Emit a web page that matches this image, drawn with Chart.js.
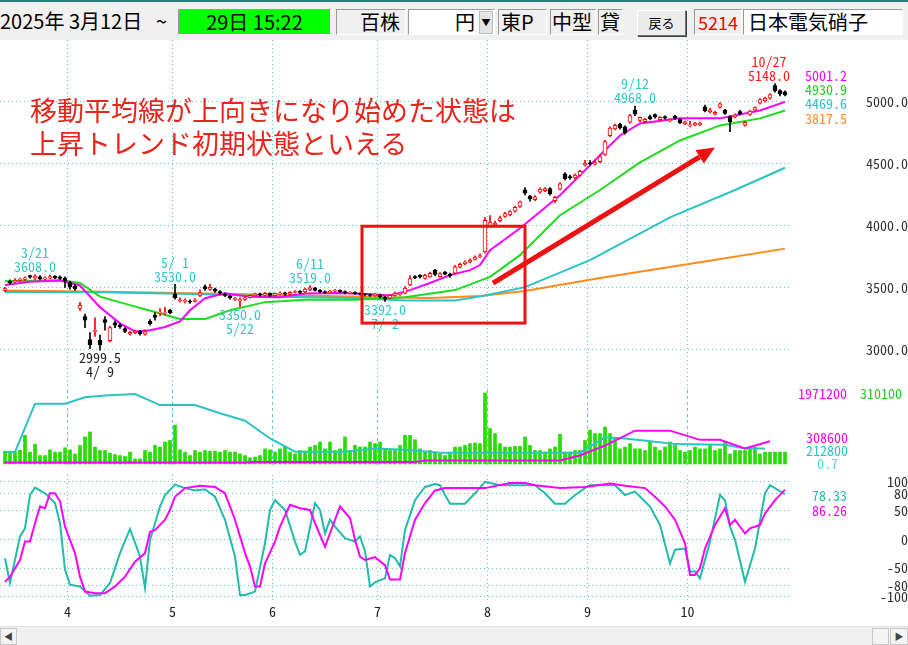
<!DOCTYPE html>
<html><head><meta charset="utf-8">
<script src="https://cdn.jsdelivr.net/npm/chart.js@4.4.1/dist/chart.umd.min.js"></script>
<style>
html,body{margin:0;padding:0;background:#fff;}
body{width:908px;height:645px;position:relative;overflow:hidden;font-family:'Noto Sans CJK JP',sans-serif;}
#top{position:absolute;left:0;top:0;width:908px;height:40px;background:#f0f0f0;border-top:2px solid #2c7c7c;box-sizing:border-box;}
.box{position:absolute;top:7px;height:26px;box-sizing:border-box;border:1px solid;border-color:#9a9a9a #ffffff #ffffff #9a9a9a;font-size:20px;line-height:24px;white-space:nowrap;color:#000;}
.txt{position:absolute;top:7px;font-size:20px;line-height:24px;white-space:nowrap;}
.btn{position:absolute;top:8px;height:26px;box-sizing:border-box;border:1px solid;border-color:#ffffff #707070 #707070 #ffffff;background:#ececec;font-size:13px;line-height:24px;text-align:center;box-shadow:1px 1px 0 #404040;}
canvas{position:absolute;left:0;}
.lab{position:absolute;font-family:'Noto Sans Mono CJK JP','Liberation Mono',monospace;font-size:14px;line-height:14px;white-space:nowrap;text-align:right;}
#note{position:absolute;left:30px;top:93px;font-size:27px;line-height:33px;color:#e8251c;white-space:nowrap;}
#scroll{position:absolute;left:0;top:626px;width:908px;height:19px;background:#f0f0f0;border-top:1px solid #e0e0e0;}
.sb{position:absolute;top:1px;height:17px;box-sizing:border-box;border:1px solid #c8c8c8;background:#f4f4f4;font-size:9px;line-height:15px;text-align:center;color:#444;}
</style></head>
<body>
<div id="top">
  <div class="txt" style="left:0;">2025年 3月12日</div>
  <div class="txt" style="left:156px;">~</div>
  <div class="box" style="left:178px;width:153px;background:#00ff00;text-align:center;">29日 15:22</div>
  <div class="box" style="left:336px;width:70px;text-align:right;padding-right:5px;">百株</div>
  <div class="box" style="left:408px;width:87px;background:#fff;"><span style="position:absolute;left:46px;">円</span><span style="position:absolute;left:70px;top:1px;width:12px;height:21px;background:#e4e4e4;border:1px solid #bbb;font-size:9px;line-height:21px;text-align:center;">▼</span></div>
  <div class="box" style="left:498px;width:49px;padding-left:2px;">東P</div>
  <div class="box" style="left:550px;width:46px;padding-left:1px;">中型</div>
  <div class="box" style="left:598px;width:25px;padding-left:1px;">貸</div>
  <div class="btn" style="left:637px;width:49px;">戻る</div>
  <div class="box" style="left:694px;width:48px;color:#ff0000;padding-left:3px;font-size:18px;">5214</div>
  <div class="box" style="left:743px;width:160px;background:#fff;padding-left:4px;">日本電気硝子</div>
</div>

<canvas id="cPrice" width="908" height="350" style="top:40px;width:908px;height:350px"></canvas>
<canvas id="cVol" width="908" height="76" style="top:390px;width:908px;height:76px"></canvas>
<canvas id="cOsc" width="908" height="155" style="top:470px;width:908px;height:155px"></canvas>

<div id="note">移動平均線が上向きになり始めた状態は<br>上昇トレンド初期状態といえる</div>

<div class="lab" style="left:790px;width:57px;top:68px;color:#ff00ff;">5001.2</div>
<div class="lab" style="left:790px;width:57px;top:82px;color:#22cc22;">4930.9</div>
<div class="lab" style="left:790px;width:57px;top:96px;color:#2cc3c3;">4469.6</div>
<div class="lab" style="left:790px;width:57px;top:111px;color:#ff8c33;">3817.5</div>

<div class="lab" style="left:790px;width:57px;top:386px;color:#ff00ff;">1971200</div>
<div class="lab" style="left:850px;width:52px;top:386px;color:#22cc22;">310100</div>
<div class="lab" style="left:790px;width:58px;top:430px;color:#ff00ff;">308600</div>
<div class="lab" style="left:790px;width:58px;top:443px;color:#2cc3c3;">212800</div>
<div class="lab" style="left:790px;width:48px;top:456px;color:#55dddd;">0.7</div>

<div class="lab" style="left:790px;width:57px;top:488px;color:#22bbaa;">78.33</div>
<div class="lab" style="left:790px;width:57px;top:503px;color:#ff00ff;">86.26</div>

<div id="scroll">
  <div class="sb" style="left:0;width:17px;">◀</div>
  <div class="sb" style="left:872px;width:17px;"></div>
  <div class="sb" style="left:890px;width:18px;">▶</div>
</div>

<script>
// ---------------- DATA ----------------
// trading days 2025/3/12 .. 2025/10/29 (157 sessions), index 0..156
const monthBounds = [12.5, 33.5, 53.5, 74.5, 96.5, 116.5, 136.5];
const monthLabels = ['4', '5', '6', '7', '8', '9', '10'];
const priceTicks = [3000, 3500, 4000, 4500, 5000];
const oscTicks = [-100, -80, -50, 0, 50, 80, 100];

const opens = [
 3480,3555,3550,3562,3570,3600,3580,3590,3572,3580,
 3595,3590,3580,3545,3515,3335,3270,3085,3150,3080,
 3245,3075,3220,3200,3172,3128,3138,3150,3128,3232,
 3282,3298,3296,3322,3450,3398,3392,3395,3392,3440,
 3512,3488,3492,3472,3448,3432,3408,3398,3408,3424,
 3438,3452,3442,3458,3438,3452,3462,3448,3464,3474,
 3468,3484,3498,3482,3472,3462,3474,3482,3472,3458,
 3466,3456,3452,3446,3438,3445,3425,3418,3440,3448,
 3458,3525,3592,3602,3578,3590,3645,3592,3628,3612,
 3620,3668,3694,3708,3730,3752,3790,4000,4010,4040,
 4078,4090,4120,4158,4292,4240,4212,4272,4284,4302,
 4204,4298,4420,4398,4388,4410,4490,4510,4498,4518,
 4578,4728,4782,4822,4800,4838,4932,4852,4842,4882,
 4898,4858,4882,4848,4886,4860,4824,4808,4814,4816,
 4962,4920,4902,4958,4932,4882,4880,4922,4814,4900,
 4934,4990,5008,5030,5132,5092,5082];
const highs = [
 3505,3565,3575,3580,3590,3605,3608,3600,3590,3605,
 3600,3598,3590,3555,3530,3385,3290,3140,3260,3120,
 3270,3190,3235,3215,3180,3150,3160,3158,3160,3245,
 3300,3335,3345,3330,3530,3420,3412,3405,3415,3485,
 3525,3532,3500,3480,3460,3440,3425,3420,3430,3445,
 3460,3460,3465,3462,3462,3470,3468,3472,3480,3480,
 3500,3519,3505,3488,3478,3482,3490,3486,3478,3472,
 3470,3462,3458,3452,3458,3450,3432,3448,3468,3462,
 3512,3600,3600,3608,3612,3628,3650,3625,3635,3620,
 3682,3700,3720,3735,3760,3775,4070,4085,4040,4080,
 4110,4125,4160,4200,4310,4248,4245,4308,4310,4310,
 4240,4350,4430,4410,4420,4450,4530,4528,4525,4575,
 4690,4800,4822,4830,4808,4900,4968,4880,4868,4895,
 4905,4882,4888,4866,4892,4866,4846,4845,4836,4838,
 4975,4950,4925,4995,4940,4890,4905,4932,4842,4932,
 4962,5028,5040,5068,5148,5100,5090];
const lows = [
 3470,3530,3540,3555,3560,3580,3570,3565,3565,3575,
 3575,3570,3505,3490,3480,3320,3180,3010,3110,2999.5,
 3160,3065,3180,3175,3140,3120,3130,3120,3120,3200,
 3240,3275,3280,3290,3410,3385,3380,3375,3385,3430,
 3480,3480,3465,3450,3430,3410,3400,3350,3400,3418,
 3432,3435,3438,3430,3432,3445,3440,3442,3458,3455,
 3462,3478,3475,3462,3455,3458,3468,3462,3452,3452,
 3448,3442,3436,3432,3432,3420,3392,3412,3434,3440,
 3452,3518,3575,3580,3572,3585,3600,3588,3605,3585,
 3612,3662,3688,3702,3724,3745,3780,3990,3995,4032,
 4070,4082,4112,4150,4250,4200,4205,4265,4276,4248,
 4188,4290,4370,4375,4380,4402,4482,4492,4490,4510,
 4570,4720,4775,4780,4740,4830,4890,4840,4830,4855,
 4870,4850,4862,4840,4862,4826,4818,4800,4808,4810,
 4920,4912,4895,4950,4900,4760,4872,4895,4806,4892,
 4928,4982,5000,5022,5080,5050,5050];
const closes = [
 3495,3540,3562,3572,3582,3588,3596,3575,3582,3592,
 3582,3578,3560,3508,3495,3360,3240,3040,3158,3040,
 3222,3180,3200,3188,3150,3142,3152,3130,3148,3210,
 3262,3304,3302,3300,3422,3405,3400,3385,3402,3462,
 3495,3505,3475,3460,3440,3420,3416,3406,3420,3440,
 3452,3444,3456,3440,3456,3462,3450,3466,3472,3464,
 3492,3502,3480,3470,3464,3476,3482,3470,3460,3466,
 3455,3450,3444,3440,3450,3428,3410,3440,3460,3456,
 3500,3575,3584,3590,3602,3618,3610,3616,3612,3598,
 3670,3690,3710,3726,3750,3762,4045,4032,4022,4066,
 4100,4116,4150,4195,4265,4218,4236,4298,4302,4258,
 4232,4340,4382,4390,4410,4440,4508,4502,4512,4560,
 4680,4790,4812,4790,4752,4890,4902,4876,4860,4864,
 4880,4876,4870,4860,4870,4834,4840,4816,4830,4832,
 4930,4936,4916,4986,4908,4842,4896,4904,4836,4926,
 4956,5020,5032,5060,5090,5066,5058];
const volumes = [
 56000,56000,52000,60000,125000,52000,86000,37000,37000,62000,
 52000,52000,71000,62000,44000,81000,118000,140000,74000,59000,
 59000,47000,41000,37000,33000,52000,22000,22000,59000,52000,
 81000,74000,96000,103000,170000,62000,52000,37000,59000,52000,
 59000,56000,56000,52000,59000,52000,52000,44000,37000,27000,
 30000,37000,66000,62000,52000,66000,74000,52000,44000,59000,
 56000,74000,81000,96000,66000,96000,59000,66000,118000,59000,
 81000,74000,74000,96000,89000,96000,66000,59000,59000,81000,
 125000,125000,106000,66000,52000,59000,52000,44000,37000,52000,
 74000,74000,81000,89000,92000,89000,310100,155000,133000,89000,
 74000,74000,77000,77000,118000,81000,59000,59000,52000,66000,
 74000,130000,52000,52000,59000,59000,103000,148000,133000,133000,
 162000,133000,111000,66000,74000,89000,66000,66000,59000,96000,
 74000,59000,74000,96000,81000,59000,52000,59000,74000,66000,
 66000,81000,59000,66000,96000,44000,59000,59000,59000,74000,
 74000,44000,52000,52000,52000,52000,52000];

// moving averages (sampled session index -> value)
const maShortIdx = [0,5,11,15,19,23,26,29,32,35,37,40,44,49,55,60,67,73,77,81,85,89,93,95,97,103,111,119,123,127,135,143,151,156];
const maShort    = [3525,3550,3560,3520,3345,3215,3150,3160,3185,3230,3320,3418,3458,3430,3425,3455,3460,3450,3440,3483,3540,3604,3644,3685,3805,3982,4248,4570,4730,4827,4868,4868,4932,5001.2];
const maMidIdx   = [0,11,15,19,25,30,35,40,45,52,60,70,80,90,97,103,111,119,127,135,143,151,156];
const maMid      = [3555,3562,3540,3430,3362,3306,3250,3250,3320,3386,3405,3405,3425,3483,3590,3765,4087,4290,4513,4690,4811,4868,4930.9];
const maLongIdx  = [0,20,40,55,70,80,90,96,104,117,133,146,156];
const maLong     = [3467,3465,3450,3430,3420,3400,3400,3440,3507,3725,4070,4290,4469.6];
const maXLongIdx = [0,20,40,60,75,85,95,104,119,139,156];
const maXLong    = [3480,3470,3455,3440,3425,3420,3435,3475,3580,3708,3817.5];

// volume-panel lines (panel %)
const volLineAIdx = [0,2,6,12,16,20,26,31,38,43,48,53,58,68,74,80,87,115,117,120,124,130,134,144,148,152];
const volLineA    = [17,17,85,85,94,96.5,98.6,83,83,71.4,61,36,17.4,17.4,22,20,16,16,24.4,37.6,36,31.4,28,27,22,22];
const volLineBIdx = [0,48,50,82,84,111,115,120,126,133,139,143,148,153];
const volLineB    = [2,2,3,3,5,5,12,26,47,47,34,34,22,32];

// oscillator
const oscFastIdx = [0,1,3,4,5,6,8,10,11,12,13,15,17,19,21,23,25,27,28,29,31,32,34,36,38,40,42,44,46,47,48,50,52,53,54,56,58,59,60,62,63,64,65,66,68,70,71,72,73,74,76,77,78,79,80,82,84,86,87,88,89,92,94,96,99,106,108,110,112,114,116,117,122,124,126,129,131,133,134,136,137,138,139,141,143,144,145,146,148,150,152,153,156];
const oscFast    = [-33,-76,5,19,77,90,80,63,28,-53,-79,-82,-98,-97,-76,-24,18,-30,-85,-1,57,77,95,89,85,87,74,34,-30,-97,-97,-91,-7,51,68,51,-4,-27,-21,63,51,10,34,22,2,-4,5,-21,-82,-75,-68,-27,-33,-47,16,68,91,96,94,77,62,62,80,100,94,94,80,62,62,77,89,94,94,77,83,57,25,-42,-18,-16,-56,-56,-68,-4,77,68,22,-1,-74,-16,80,94,78.33];
const oscSlowIdx = [0,1,3,4,5,6,7,8,9,10,11,12,14,15,16,18,20,22,24,26,28,29,30,32,33,34,36,39,42,44,46,48,49,50,51,52,54,55,57,59,61,62,64,66,67,69,70,71,72,74,76,77,79,80,82,84,86,88,96,101,104,106,111,116,121,124,128,130,132,134,136,137,138,139,140,142,144,145,146,148,149,151,152,154,156];
const oscSlow    = [-74,-65,-36,-4,-4,28,57,54,80,80,66,22,-24,-65,-91,-94,-94,-82,-65,-39,-24,13,16,34,51,74,89,93,91,80,34,-24,-47,-82,-82,-42,-4,22,60,54,51,28,-13,34,57,37,-1,-30,-36,-31,-45,-70,-70,-24,34,63,85,89,89,98,98,94,89,91,97,93,89,74,57,34,-7,-62,-62,-50,-16,25,54,25,34,10,19,25,45,68,86.26];

// high / low annotations
const hlIdx   = [6, 19, 34, 47, 61, 76, 126, 154];
const hlKind  = ['H','L','H','L','H','L','H','H'];
const hlValue = [3608.0, 2999.5, 3530.0, 3350.0, 3519.0, 3392.0, 4968.0, 5148.0];
const hlDate  = ['3/21','4/ 9','5/ 1','5/22','6/11','7/ 2','9/12','10/27'];

// drawn annotations (in data units)
const boxIdx = [71.4, 104];
const boxPrice = [3217, 3998];
const arrowIdx = [97.6, 142];
const arrowPrice = [3539, 4634];

// ---------------- STYLE ----------------
const monoFont = "'Noto Sans Mono CJK JP','Liberation Mono',monospace";
const gridCyan = '#5cc9c9';
const C_MAG = '#ff00ff', C_GRN = '#1edc1e', C_CYN = '#2cc3c3', C_ORG = '#ff8c1a';
const C_OSC_CYN = '#22bbaa';
const C_VOL = '#25dd00';

const mctx = document.createElement('canvas').getContext('2d');
mctx.font = '14px ' + monoFont;
const wPrice = mctx.measureText('5000.0').width;
const wOsc = mctx.measureText('-100').width;

const pts = (ix, vals) => ix.map((v, i) => ({x: v, y: vals[i]}));
const isUp = i => closes[i] >= opens[i];

function xAxis(showLabels, dash, h) {
  return {
    type: 'linear', min: -1, max: 157, offset: false,
    afterBuildTicks: s => { s.ticks = monthBounds.map(v => ({value: v})); },
    afterFit: s => { s.height = h; s.paddingLeft = 0; s.paddingRight = 0; },
    grid: {color: gridCyan, lineWidth: 1, drawTicks: false, offset: false},
    border: {display: false, dash: dash},
    ticks: {display: showLabels, autoSkip: false, maxRotation: 0, padding: 3, color: '#222',
            font: {family: monoFont, size: 14},
            callback: (v, i) => monthLabels[i]}
  };
}
function yRight(min, max, tickVals, w, fmt) {
  return {position: 'right', min, max,
    afterBuildTicks: s => { s.ticks = tickVals.map(v => ({value: v})); },
    afterFit: s => { s.width = 118; s.paddingTop = 0; s.paddingBottom = 0; },
    grid: {color: gridCyan, drawTicks: false},
    border: {display: false, dash: [1, 3]},
    ticks: {autoSkip: false, crossAlign: 'far', padding: 112 - w, color: '#333',
            font: {family: monoFont, size: 14}, callback: fmt}};
}
const lineDs = (data, color, order, axis) => ({type: 'line', data, borderColor: color, borderWidth: 2,
  pointRadius: 0, tension: 0, order, yAxisID: axis || 'y', fill: false});

const common = {responsive: false, maintainAspectRatio: false, animation: false,
  events: [], plugins: {legend: {display: false}, tooltip: {enabled: false}}};

// ---------- price panel ----------
const annotPlugin = {
  id: 'annot',
  afterDatasetsDraw(chart) {
    const {ctx, chartArea, scales: {x, y}} = chart;
    ctx.save();
    const maxH = Math.max(...highs), minL = Math.min(...lows);
    ctx.font = '14px ' + monoFont;
    ctx.textAlign = 'center';
    hlIdx.forEach((ix, k) => {
      const val = hlValue[k].toFixed(1), dt = hlDate[k];
      const w = Math.max(ctx.measureText(val).width, ctx.measureText(dt).width);
      let px = x.getPixelForValue(ix);
      if (px + w / 2 > chartArea.right) px = chartArea.right - w / 2;
      const py = y.getPixelForValue(hlValue[k]);
      ctx.fillStyle = hlValue[k] === maxH ? '#ff1a1a' : (hlValue[k] === minL ? '#222' : '#33c6c6');
      if (hlKind[k] === 'H') {
        ctx.textBaseline = 'bottom';
        ctx.fillText(val, px, py - 1);
        ctx.fillText(dt, px, py - 15);
      } else {
        ctx.textBaseline = 'top';
        ctx.fillText(val, px, py + 1);
        ctx.fillText(dt, px, py + 15);
      }
    });
    ctx.strokeStyle = '#ee1111';
    ctx.lineWidth = 3;
    const bx0 = x.getPixelForValue(boxIdx[0]), bx1 = x.getPixelForValue(boxIdx[1]);
    const by0 = y.getPixelForValue(boxPrice[1]), by1 = y.getPixelForValue(boxPrice[0]);
    ctx.strokeRect(bx0, by0, bx1 - bx0, by1 - by0);
    const ax0 = x.getPixelForValue(arrowIdx[0]), ay0 = y.getPixelForValue(arrowPrice[0]);
    const ax1 = x.getPixelForValue(arrowIdx[1]), ay1 = y.getPixelForValue(arrowPrice[1]);
    const ang = Math.atan2(ay1 - ay0, ax1 - ax0);
    const hl = 18, hw = 8;
    const bxm = ax1 - hl * Math.cos(ang), bym = ay1 - hl * Math.sin(ang);
    ctx.fillStyle = '#ee1111';
    ctx.lineWidth = 5;
    ctx.beginPath(); ctx.moveTo(ax0, ay0); ctx.lineTo(bxm, bym); ctx.stroke();
    ctx.beginPath();
    ctx.moveTo(ax1, ay1);
    ctx.lineTo(bxm + hw * Math.sin(ang), bym - hw * Math.cos(ang));
    ctx.lineTo(bxm - hw * Math.sin(ang), bym + hw * Math.cos(ang));
    ctx.closePath(); ctx.fill();
    ctx.restore();
  }
};

new Chart(document.getElementById('cPrice'), {
  type: 'bar',
  data: {datasets: [
    lineDs(pts(maXLongIdx, maXLong), C_ORG, 5),
    lineDs(pts(maLongIdx, maLong), C_CYN, 4),
    lineDs(pts(maMidIdx, maMid), C_GRN, 3),
    lineDs(pts(maShortIdx, maShort), C_MAG, 2),
    {type: 'bar', order: 1, grouped: false, barThickness: 1,
     data: opens.map((o, i) => ({x: i, y: [lows[i], highs[i]]})),
     backgroundColor: opens.map((o, i) => isUp(i) ? '#ff0000' : '#000000')},
    {type: 'bar', order: 0, grouped: false, barThickness: 4, borderWidth: 1, borderSkipped: false,
     data: opens.map((o, i) => ({x: i, y: [o, closes[i]]})),
     backgroundColor: opens.map((o, i) => isUp(i) ? '#ffffff' : '#000000'),
     borderColor: opens.map((o, i) => isUp(i) ? '#ff0000' : '#000000')}
  ]},
  options: {...common, layout: {padding: 0},
    scales: {
      x: xAxis(false, [1, 3], 0),
      y: yRight(2677.4, 5500, priceTicks, wPrice, v => Number(v).toFixed(1))
    }},
  plugins: [annotPlugin]
});

// ---------- volume panel ----------
new Chart(document.getElementById('cVol'), {
  type: 'bar',
  data: {datasets: [
    lineDs(pts(volLineBIdx, volLineB), C_MAG, 0, 'y2'),
    lineDs(pts(volLineAIdx, volLineA), C_CYN, 1, 'y2'),
    {type: 'bar', order: 2, grouped: false, barThickness: 3,
     data: volumes.map((v, i) => ({x: i, y: v})), backgroundColor: C_VOL}
  ]},
  options: {...common, layout: {padding: {right: 118}},
    scales: {
      x: xAxis(false, [3, 3], 0),
      y: {display: false, min: -8735, max: 323200},
      y2: {display: false, min: -2.8, max: 104.2}
    }}
});

// ---------- oscillator panel ----------
new Chart(document.getElementById('cOsc'), {
  type: 'line',
  data: {datasets: [
    lineDs(pts(oscFastIdx, oscFast), C_OSC_CYN, 1),
    lineDs(pts(oscSlowIdx, oscSlow), C_MAG, 0)
  ]},
  options: {...common, layout: {padding: {top: 5}},
    scales: {
      x: xAxis(true, [1, 3], 25),
      y: yRight(-105.6, 111.8, oscTicks, wOsc, v => String(v))
    }}
});
</script>
</body></html>
